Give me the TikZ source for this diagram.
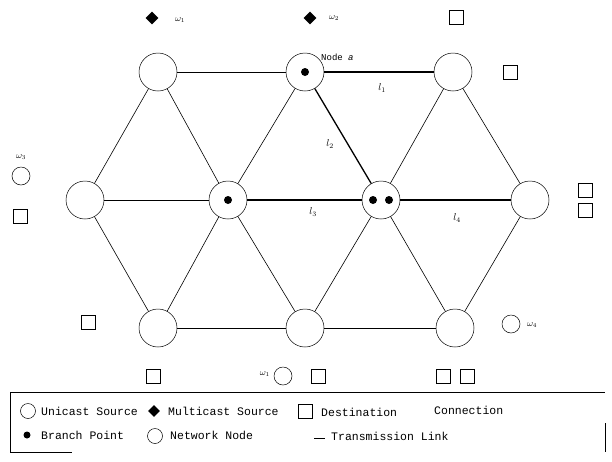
\documentclass[tikz,border=0pt]{standalone}
\usepackage{fontspec}
\setmonofont{Liberation Mono}
\usetikzlibrary{shapes.geometric}
\tikzset{
  netnode/.style={circle,draw,minimum size=38pt,inner sep=0pt,line width=0.5pt},
  link/.style={line width=0.6pt},
  heavylink/.style={line width=1.3pt},
  bpt/.style={circle,fill=black,minimum size=8pt,inner sep=0pt},
  dest/.style={draw,minimum size=14pt,inner sep=0pt,line width=0.6pt},
  msrc/.style={diamond,fill=black,minimum size=13pt,inner sep=0pt},
  usrc/.style={circle,draw,minimum size=18pt,inner sep=0pt,line width=0.5pt},
  lbl/.style={font=\normalsize,inner sep=1pt},
  wlbl/.style={font=\small,inner sep=1pt},
  leg/.style={font=\ttfamily\fontsize{11.5}{13}\selectfont,anchor=west,inner sep=0pt},
}
\begin{document}
\begin{tikzpicture}[x=1pt,y=-1pt]
\useasboundingbox (0,0) rectangle (612,461);
% network nodes
\node[netnode] (A) at (158,72) {};
\node[netnode] (B) at (305,72) {};
\node[netnode] (C) at (453,72) {};
\node[netnode] (D) at (85,200) {};
\node[netnode] (E) at (228,200) {};
\node[netnode] (F) at (381,200) {};
\node[netnode] (G) at (530,200) {};
\node[netnode] (H) at (158,328) {};
\node[netnode] (I) at (305,328) {};
\node[netnode] (J) at (455,328) {};
% links
\draw[link] (A) -- (B);
\draw[heavylink] (B) -- (C);
\draw[link] (A) -- (D);
\draw[link] (A) -- (E);
\draw[link] (B) -- (E);
\draw[heavylink] (B) -- (F);
\draw[link] (C) -- (F);
\draw[link] (C) -- (G);
\draw[link] (D) -- (E);
\draw[heavylink] (E) -- (F);
\draw[heavylink] (F) -- (G);
\draw[link] (D) -- (H);
\draw[link] (E) -- (H);
\draw[link] (E) -- (I);
\draw[link] (F) -- (I);
\draw[link] (F) -- (J);
\draw[link] (G) -- (J);
\draw[link] (H) -- (I);
\draw[link] (I) -- (J);
% branch points
\node[bpt] (bB) at (305,72) {};
\node[bpt] (bE) at (228,200) {};
\node[bpt] (bF1) at (373,200) {};
\node[bpt] (bF2) at (389,200) {};
% labels
\node[font=\ttfamily\fontsize{9}{10}\selectfont,anchor=west,inner sep=0pt] (na) at (321,57) {Node \textit{a}};
\node[lbl] (l1) at (382,88) {$l_1$};
\node[lbl] (l2) at (330,144) {$l_2$};
\node[lbl] (l3) at (313,212) {$l_3$};
\node[lbl] (l4) at (457,218) {$l_4$};
% multicast sources
\node[msrc] (m1) at (152,18) {};
\node[wlbl,anchor=west] (w1) at (174,20) {$\omega_1$};
\node[msrc] (m2) at (310,18) {};
\node[wlbl,anchor=west] (w2) at (328,18) {$\omega_2$};
% unicast sources
\node[usrc] (u3) at (21,176) {};
\node[wlbl] (w3) at (21,157) {$\omega_3$};
\node[usrc] (u4) at (511,324) {};
\node[wlbl,anchor=west] (w4) at (526,325) {$\omega_4$};
\node[usrc] (u1) at (283,376) {};
\node[wlbl,anchor=east] (w1b) at (271,374) {$\omega_1$};
% destinations
\node[dest] (d1) at (456,17) {};
\node[dest] (d2) at (510,72) {};
\node[dest] (d3) at (20,216) {};
\node[dest] (d4) at (585,190) {};
\node[dest] (d5) at (585,210) {};
\node[dest] (d6) at (88,322) {};
\node[dest] (d7) at (153,376) {};
\node[dest] (d8) at (318,376) {};
\node[dest] (d9) at (443,376) {};
\node[dest] (d10) at (467,376) {};
% legend frame
\draw[line width=0.6pt] (10,392) -- (605,392);
\draw[line width=0.6pt] (10,392) -- (10,452);
\draw[line width=0.6pt] (10,452) -- (72,452);
\draw[line width=0.6pt] (605,423) -- (605,452);
% legend row 1
\node[usrc,minimum size=15pt] (k1) at (28,411) {};
\node[leg] (t1) at (41,411) {Unicast Source};
\node[msrc,minimum size=12pt] (k2) at (154,411) {};
\node[leg] (t2) at (168,411) {Multicast Source};
\node[dest,minimum size=14pt] (k3) at (305,411) {};
\node[leg] (t3) at (321,412) {Destination};
\node[leg] (t4) at (434,410) {Connection};
% legend row 2
\node[bpt,minimum size=7pt] (k4) at (27,435) {};
\node[leg] (t5) at (41,435) {Branch Point};
\node[usrc,minimum size=15pt] (k5) at (155,436) {};
\node[leg] (t6) at (170,435) {Network Node};
\coordinate (k6a) at (314,438);
\coordinate (k6b) at (325,438);
\draw[line width=0.8pt] (k6a) -- (k6b);
\node[leg] (t7) at (331,436) {Transmission Link};
\end{tikzpicture}
\end{document}
